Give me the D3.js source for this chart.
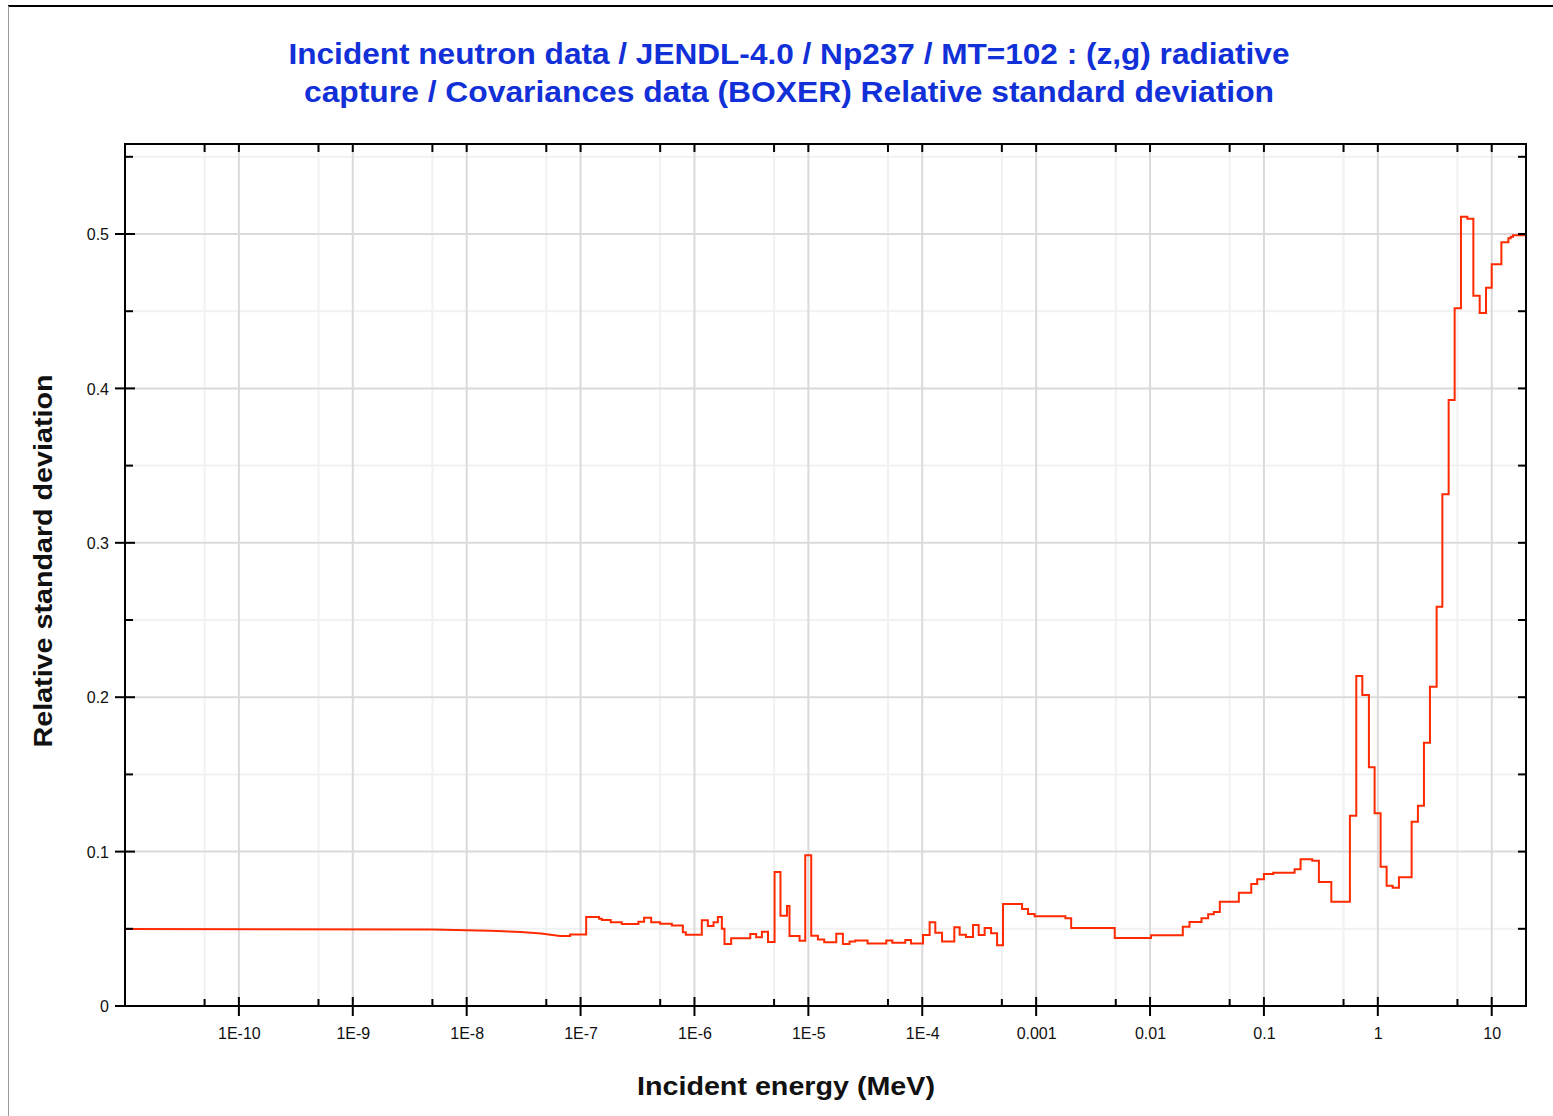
<!DOCTYPE html>
<html>
<head>
<meta charset="utf-8">
<script src="https://cdn.jsdelivr.net/npm/d3@7"></script>
<style>
  html, body { margin: 0; padding: 0; background: #ffffff; }
  svg { display: block; }
  text { font-family: "Liberation Sans", Arial, sans-serif; }
</style>
</head>
<body>
<svg id="chart" width="1553" height="1116"></svg>
<script>
// ---------- data ----------
const titleLines = [
  "Incident neutron data / JENDL-4.0 / Np237 / MT=102 : (z,g) radiative",
  "capture / Covariances data (BOXER) Relative standard deviation"
];
const xTitle = "Incident energy (MeV)";
const yTitle = "Relative standard deviation";

// low-energy part (pointwise, drawn as a line)
const lowE = [1e-11, 5e-9, 1.6e-8, 3e-8, 4.5e-8, 6.6e-8];
const lowV = [0.0499, 0.0495, 0.0488, 0.0479, 0.0469, 0.0453];

// group structure: lower bound of each group (MeV) and its relative std. deviation
const grpE = [
  6.6e-8, 8.1e-8, 1.12e-7, 1.455e-7, 1.54e-7, 1.84e-7, 2.30e-7, 3.22e-7, 3.61e-7, 4.17e-7,
  5.00e-7, 6.33e-7, 7.91e-7, 8.40e-7, 1.16e-6, 1.31e-6, 1.47e-6, 1.605e-6, 1.74e-6, 1.835e-6,
  2.10e-6, 3.09e-6, 3.48e-6, 3.91e-6, 4.42e-6, 5.05e-6, 5.69e-6, 6.49e-6, 6.83e-6, 8.37e-6,
  9.39e-6, 1.06e-5, 1.213e-5, 1.378e-5, 1.758e-5, 2.01e-5, 2.30e-5, 2.58e-5, 3.31e-5, 4.83e-5,
  5.46e-5, 7.10e-5, 7.96e-5, 1.016e-4, 1.161e-4, 1.302e-4, 1.492e-4, 1.912e-4, 2.13e-4, 2.42e-4,
  2.79e-4, 3.13e-4, 3.53e-4, 4.02e-4, 4.54e-4, 5.12e-4, 7.52e-4, 8.49e-4, 9.70e-4, 1.807e-3,
  2.03e-3, 4.90e-3, 1.02e-2, 1.94e-2, 2.22e-2, 2.83e-2, 3.24e-2, 3.63e-2, 4.10e-2, 6.02e-2,
  7.74e-2, 8.73e-2, 0.1, 0.1207, 0.1858, 0.2098, 0.2657, 0.3038, 0.3904, 0.5685,
  0.647, 0.731, 0.835, 0.937, 1.058, 1.195, 1.349, 1.532, 1.981, 2.249,
  2.541, 2.869, 3.284, 3.686, 4.187, 4.727, 5.37, 6.11, 6.90, 7.84,
  8.91, 10.0, 12.16, 14.01, 14.68, 15.38, 20.0
];
const grpV = [
  0.0453, 0.0463, 0.0576, 0.0565, 0.0557, 0.0542, 0.0531, 0.0546, 0.0572, 0.0542,
  0.0533, 0.0522, 0.0477, 0.0462, 0.0555, 0.0518, 0.0542, 0.0576, 0.0501, 0.0402,
  0.0438, 0.0466, 0.0445, 0.0481, 0.0414, 0.0868, 0.0585, 0.0648, 0.0453, 0.0423,
  0.0976, 0.0455, 0.0430, 0.0413, 0.0468, 0.0402, 0.0417, 0.0425, 0.0404, 0.0425,
  0.0410, 0.0427, 0.0404, 0.0460, 0.0542, 0.0475, 0.0417, 0.0510, 0.0462, 0.0447,
  0.0525, 0.0460, 0.0505, 0.0471, 0.0393, 0.0661, 0.0628, 0.0596, 0.0582, 0.0568,
  0.0505, 0.0441, 0.0458, 0.0514, 0.0544, 0.0568, 0.0594, 0.0609, 0.0676, 0.0734,
  0.0790, 0.0821, 0.0855, 0.0863, 0.0885, 0.0950, 0.0941, 0.0803, 0.0676, 0.1233,
  0.2137, 0.2014, 0.1546, 0.1248, 0.0902, 0.0779, 0.0766, 0.0834, 0.1194, 0.1297,
  0.1705, 0.2068, 0.2586, 0.3314, 0.3925, 0.4519, 0.5112, 0.5099, 0.4600, 0.4488,
  0.4652, 0.4804, 0.4946, 0.4972, 0.4983, 0.4992, 0.4992
];

const xMajorTicks = [1e-10, 1e-9, 1e-8, 1e-7, 1e-6, 1e-5, 1e-4, 1e-3, 1e-2, 1e-1, 1, 10];
const xTickLabels = ["1E-10", "1E-9", "1E-8", "1E-7", "1E-6", "1E-5", "1E-4", "0.001", "0.01", "0.1", "1", "10"];
const xMinorTicks = [5e-11, 5e-10, 5e-9, 5e-8, 5e-7, 5e-6, 5e-5, 5e-4, 5e-3, 5e-2, 0.5, 5];
const yMajorTicks = [0, 0.1, 0.2, 0.3, 0.4, 0.5];
const yTickLabels = ["0", "0.1", "0.2", "0.3", "0.4", "0.5"];
const yMinorTicks = [0.05, 0.15, 0.25, 0.35, 0.45, 0.55];

// ---------- layout ----------
const L = 125, R = 1526, T = 144, B = 1006;
const svg = d3.select("#chart");

const x = d3.scaleLog().domain([1e-11, 20]).range([L, R]);
const y = d3.scaleLinear().domain([0, 0.5583]).range([B, T]);

// page frame (cropped border)
svg.append("line").attr("x1", 8).attr("x2", 1553).attr("y1", 6).attr("y2", 6)
  .attr("stroke", "#000").attr("stroke-width", 2);
svg.append("line").attr("x1", 8.5).attr("x2", 8.5).attr("y1", 6).attr("y2", 1116)
  .attr("stroke", "#9a9a9a").attr("stroke-width", 1);

// title
const titleSizes = [1001, 970];
const titleY = [63.5, 101.5];
titleLines.forEach((t, i) => {
  svg.append("text")
    .attr("x", 789).attr("y", titleY[i])
    .attr("text-anchor", "middle")
    .attr("font-size", 29).attr("font-weight", "bold")
    .attr("fill", "#1230d8")
    .attr("textLength", titleSizes[i]).attr("lengthAdjust", "spacingAndGlyphs")
    .text(t);
});

// grid
const grid = svg.append("g");
grid.selectAll(".vmin").data(xMinorTicks).join("line")
  .attr("x1", d => x(d)).attr("x2", d => x(d)).attr("y1", T).attr("y2", B)
  .attr("stroke", "#f1f1f1").attr("stroke-width", 2);
grid.selectAll(".hmin").data(yMinorTicks).join("line")
  .attr("x1", L).attr("x2", R).attr("y1", d => y(d)).attr("y2", d => y(d))
  .attr("stroke", "#f1f1f1").attr("stroke-width", 2);
grid.selectAll(".vmaj").data(xMajorTicks).join("line")
  .attr("x1", d => x(d)).attr("x2", d => x(d)).attr("y1", T).attr("y2", B)
  .attr("stroke", "#dadada").attr("stroke-width", 2);
grid.selectAll(".hmaj").data(yMajorTicks.slice(1)).join("line")
  .attr("x1", L).attr("x2", R).attr("y1", d => y(d)).attr("y2", d => y(d))
  .attr("stroke", "#dadada").attr("stroke-width", 2);

// data
svg.append("clipPath").attr("id", "clip").append("rect")
  .attr("x", L).attr("y", T).attr("width", R - L).attr("height", B - T);
const plot = svg.append("g").attr("clip-path", "url(#clip)");

const lowPts = lowE.map((e, i) => [e, lowV[i]]);
const grpPts = grpE.map((e, i) => [e, grpV[i]]);
const lineGen = d3.line().x(d => x(d[0])).y(d => y(d[1]));
plot.append("path").datum(lowPts)
  .attr("d", lineGen.curve(d3.curveLinear))
  .attr("fill", "none").attr("stroke", "#ff2a00").attr("stroke-width", 2);
plot.append("path").datum(grpPts)
  .attr("d", d3.line().x(d => x(d[0])).y(d => y(d[1])).curve(d3.curveStepAfter))
  .attr("fill", "none").attr("stroke", "#ff2a00").attr("stroke-width", 2)
  .attr("stroke-linejoin", "miter");

// axes via d3 (labels), ticks drawn manually for in/out style
const fmtX = d => xTickLabels[xMajorTicks.indexOf(d)];
const fmtY = d => yTickLabels[yMajorTicks.indexOf(d)];
const axB = svg.append("g").attr("transform", `translate(0,${B})`)
  .call(d3.axisBottom(x).tickValues(xMajorTicks).tickFormat(fmtX).tickSize(0).tickPadding(0));
axB.select(".domain").remove();
axB.selectAll("text").attr("y", 33).attr("dy", null)
  .attr("font-size", 16).attr("fill", "#111").attr("font-family", "Liberation Sans, Arial, sans-serif");

const axL = svg.append("g").attr("transform", `translate(${L},0)`)
  .call(d3.axisLeft(y).tickValues(yMajorTicks).tickFormat(fmtY).tickSize(0).tickPadding(0));
axL.select(".domain").remove();
axL.selectAll("text").attr("x", -16).attr("dy", "0.36em")
  .attr("font-size", 16).attr("fill", "#111").attr("font-family", "Liberation Sans, Arial, sans-serif");

const ticks = svg.append("g").attr("stroke", "#000").attr("stroke-width", 2);
// bottom
ticks.selectAll(".bmaj").data(xMajorTicks).join("line")
  .attr("x1", d => x(d)).attr("x2", d => x(d)).attr("y1", B - 9).attr("y2", B + 10);
ticks.selectAll(".bmin").data(xMinorTicks).join("line")
  .attr("x1", d => x(d)).attr("x2", d => x(d)).attr("y1", B - 7).attr("y2", B);
// top
ticks.selectAll(".tmaj").data(xMajorTicks.concat(xMinorTicks)).join("line")
  .attr("x1", d => x(d)).attr("x2", d => x(d)).attr("y1", T).attr("y2", T + 8);
// left
ticks.selectAll(".lmaj").data(yMajorTicks).join("line")
  .attr("x1", L - 10).attr("x2", L + 10).attr("y1", d => y(d)).attr("y2", d => y(d));
ticks.selectAll(".lmin").data(yMinorTicks).join("line")
  .attr("x1", L).attr("x2", L + 8).attr("y1", d => y(d)).attr("y2", d => y(d));
// right
ticks.selectAll(".rmaj").data(yMajorTicks.concat(yMinorTicks)).join("line")
  .attr("x1", R - 8).attr("x2", R).attr("y1", d => y(d)).attr("y2", d => y(d));

// plot frame
svg.append("rect").attr("x", L).attr("y", T).attr("width", R - L).attr("height", B - T)
  .attr("fill", "none").attr("stroke", "#000").attr("stroke-width", 2);

// axis titles
svg.append("text").attr("x", 786).attr("y", 1095)
  .attr("text-anchor", "middle").attr("font-size", 25).attr("font-weight", "bold")
  .attr("fill", "#111").attr("textLength", 298).attr("lengthAdjust", "spacingAndGlyphs")
  .text(xTitle);
svg.append("text").attr("transform", "translate(52,561) rotate(-90)")
  .attr("text-anchor", "middle").attr("font-size", 25).attr("font-weight", "bold")
  .attr("fill", "#111").attr("textLength", 373).attr("lengthAdjust", "spacingAndGlyphs")
  .text(yTitle);
</script>
</body>
</html>
